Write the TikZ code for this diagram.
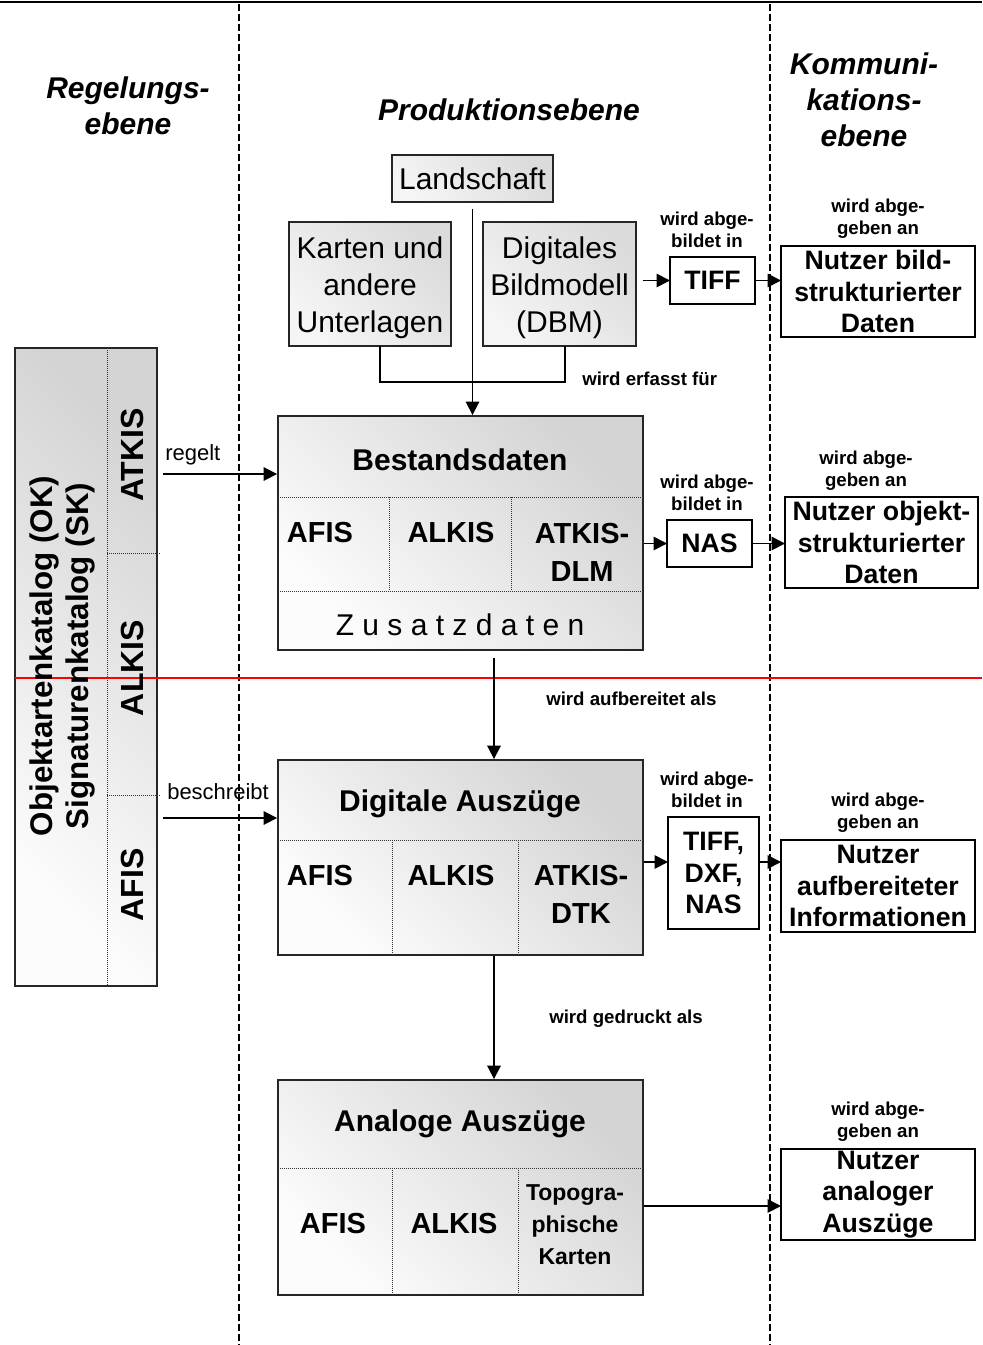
\documentclass[tikz,border=0pt]{standalone}
\usepackage{fontspec}
\setmainfont{Liberation Sans}
\usetikzlibrary{arrows.meta,fit,calc}
\newcommand\myfs[2]{\fontsize{#1}{#2}\selectfont}
\begin{document}
\begin{tikzpicture}[x=0.75pt,y=-0.75pt,
 gbox/.style={draw=black!85, line width=1.4pt, top color=black!17, bottom color=black!1, shading angle=-45, inner sep=0pt},
 lbox/.style={draw=black!85, line width=1.2pt, top color=black!14, bottom color=black!4, shading angle=-45, inner sep=0pt, outer sep=0pt, align=center, font=\myfs{22.5pt}{27.75pt}},
 ltext/.style={inner sep=0pt, align=center, font=\myfs{22.5pt}{27.75pt}},
 wbox/.style={draw=black, line width=1.4pt, fill=white, inner sep=0pt, outer sep=0pt, align=center, font=\bfseries\myfs{20pt}{23.6pt}},
 arr/.style={line width=1.3pt, -{Triangle[length=10pt,width=10pt]}},
 con/.style={line width=1.3pt},
 lane/.style={line width=1.1pt, dash pattern=on 5pt off 2.5pt},
 dots/.style={line width=0.7pt, dash pattern=on 0.75pt off 0.75pt, black!80},
 small/.style={font=\bfseries\myfs{14pt}{16.5pt}, align=center, inner sep=0pt},
 head/.style={font=\bfseries\itshape\myfs{22.5pt}{27pt}, align=center, inner sep=0pt},
 title/.style={font=\bfseries\myfs{22.5pt}{27pt}, inner sep=0pt},
 cell/.style={font=\bfseries\myfs{21.75pt}{28.5pt}, align=center, inner sep=0pt},
 rcell/.style={font=\bfseries\myfs{24pt}{28pt}, rotate=90, inner sep=0pt},
 verb/.style={font=\myfs{16.5pt}{20pt}, anchor=west, inner sep=0pt},
]
\useasboundingbox (0,0) rectangle (982,1345);

% lanes and top rule
\draw[lane] (239,4) -- (239,1345);
\draw[lane] (770,4) -- (770,1345);
\draw[line width=2.2pt] (0,2) -- (982,2);

% headers
\node[head] (h1) at (128,106) {Regelungs-\\ebene};
\node[head] (h2) at (509,110) {Produktionsebene};
\node[head] (h3) at (864,100) {Kommuni-\\kations-\\ebene};

% catalogue box
\node[gbox, fit={(15,348) (157,986)}] (cat) {};
\draw[dots] (107,348) -- (107,986);
\draw[dots] (107,553) -- (160,553);
\draw[dots] (107,795) -- (160,795);
\draw[red, line width=1.1pt] (15,678) -- (982,678);
\node[font=\bfseries\myfs{23.5pt}{27pt}, align=center, rotate=90, inner sep=0pt] (catT) at (62,656) {Objektartenkatalog (OK)\\Signaturenkatalog (SK)};
\node[rcell] (cA) at (132,455) {ATKIS};
\node[rcell] (cB) at (132,668) {ALKIS};
\node[rcell] (cC) at (132,885) {AFIS};

% top sources
\node[lbox, minimum width=120.75pt, minimum height=35.25pt] (land) at (472.5,178.5) {Landschaft};
\node[lbox, minimum width=121.5pt, minimum height=93pt] (kart) at (370,284) {};
\node[ltext] (kartT) at (370,288) {Karten und\\andere\\Unterlagen};
\node[lbox, minimum width=114.75pt, minimum height=93pt] (dbm) at (559.5,284) {};
\node[ltext] (dbmT) at (559.5,288) {Digitales\\Bildmodell\\(DBM)};

% Bestandsdaten
\node[gbox, fit={(278,416) (643,650)}] (best) {};
\draw[dots] (278,497) -- (643,497);
\draw[dots] (278,591) -- (643,591);
\draw[dots] (389,497) -- (389,591);
\draw[dots] (511,497) -- (511,591);
\node[title] (bT) at (460,460) {Bestandsdaten};
\node[cell] (b1) at (320,533) {AFIS};
\node[cell] (b2) at (451,533) {ALKIS};
\node[cell] (b3) at (582,552) {ATKIS-\\DLM};
\node[font=\myfs{22.5pt}{27pt}, inner sep=0pt] (bZ) at (460,625) {Z u s a t z d a t e n};

% Digitale Auszuege
\node[gbox, fit={(278,760) (643,955)}] (dig) {};
\draw[dots] (278,840) -- (643,840);
\draw[dots] (392,840) -- (392,955);
\draw[dots] (518,840) -- (518,955);
\node[title] (dT) at (460,804) {Digitale Auszüge};
\node[cell] (d1) at (320,876) {AFIS};
\node[cell] (d2) at (451,876) {ALKIS};
\node[cell] (d3) at (581,894) {ATKIS-\\DTK};

% Analoge Auszuege
\node[gbox, fit={(278,1080) (643,1295)}] (ana) {};
\draw[dots] (278,1168) -- (643,1168);
\draw[dots] (392,1168) -- (392,1295);
\draw[dots] (518,1168) -- (518,1295);
\node[title] (aT) at (460,1124) {Analoge Auszüge};
\node[cell] (a1) at (333,1224) {AFIS};
\node[cell] (a2) at (454,1224) {ALKIS};
\node[font=\bfseries\myfs{17.25pt}{24pt}, align=center, inner sep=0pt] (a3) at (575,1225) {Topogra-\\phische\\Karten};

% format boxes
\node[wbox, minimum width=63.75pt, minimum height=35.25pt] (tiff) at (712.5,280.5) {TIFF};
\node[wbox, minimum width=63.75pt, minimum height=35.25pt] (nas) at (709.5,543.5) {NAS};
\node[wbox, minimum width=68.25pt, minimum height=84pt] (tdn) at (713.5,873) {TIFF,\\DXF,\\NAS};

% user boxes
\node[wbox, minimum width=145.5pt, minimum height=68.25pt] (nutz1) at (878,291.5) {Nutzer bild-\\strukturierter\\Daten};
\node[wbox, minimum width=144.75pt, minimum height=68.25pt] (nutz2) at (881.5,542.5) {Nutzer objekt-\\strukturierter\\Daten};
\node[wbox, minimum width=145.5pt, minimum height=69pt] (nutz3) at (878,886) {Nutzer\\aufbereiteter\\Informationen};
\node[wbox, minimum width=145.5pt, minimum height=68.25pt] (nutz4) at (878,1194.5) {Nutzer\\analoger\\Auszüge};

% small labels
\node[small] (l1) at (707,230) {wird abge-\\bildet in};
\node[small] (l2) at (878,219) {wird abge-\\geben an};
\node[small] (l3) at (707,493) {wird abge-\\bildet in};
\node[small] (l4) at (866,471) {wird abge-\\geben an};
\node[small] (l5) at (707,790) {wird abge-\\bildet in};
\node[small] (l6) at (878,813) {wird abge-\\geben an};
\node[small] (l7) at (878,1122) {wird abge-\\geben an};
\node[small, anchor=west] (l8) at (582,379) {wird erfasst für};
\node[small, anchor=west] (l9) at (546,699) {wird aufbereitet als};
\node[small, anchor=west] (l10) at (549,1019) {wird gedruckt als};
\node[verb] (lrg) at (165,455) {regelt};
\node[verb] (lbs) at (167,792) {beschreibt};

% connectors
\draw[con] ($(kart.south)+(10,0)$) -- ($(kart.south)+(10,36)$) -| ($(dbm.south)+(5.5,0)$);
\draw[arr, shorten <=5pt] (land.south) -- (land.south |- best.north);
\draw[arr, shorten <=5pt] (dbm.east |- tiff) -- (tiff.west);
\draw[arr] (tiff.east) -- (tiff.east -| nutz1.west);
\draw[arr] (best.east |- nas) -- (nas.west);
\draw[arr] (nas.east) -- (nas.east -| nutz2.west);
\coordinate (cx) at (494,0);
\draw[arr, shorten <=5pt] (best.south -| cx) -- (dig.north -| cx);
\draw[arr] (dig.south -| cx) -- (ana.north -| cx);
\coordinate (r3) at (0,862);
\draw[arr] (dig.east |- r3) -- (tdn.west |- r3);
\draw[arr] (tdn.east |- r3) -- (nutz3.west |- r3);
\coordinate (r4) at (0,1206);
\draw[arr] (ana.east |- r4) -- (nutz4.west |- r4);
\coordinate (rg) at (163,474);
\draw[arr] (rg) -- (rg -| best.west);
\coordinate (bs) at (163,818);
\draw[arr] (bs) -- (bs -| dig.west);
\end{tikzpicture}
\end{document}
